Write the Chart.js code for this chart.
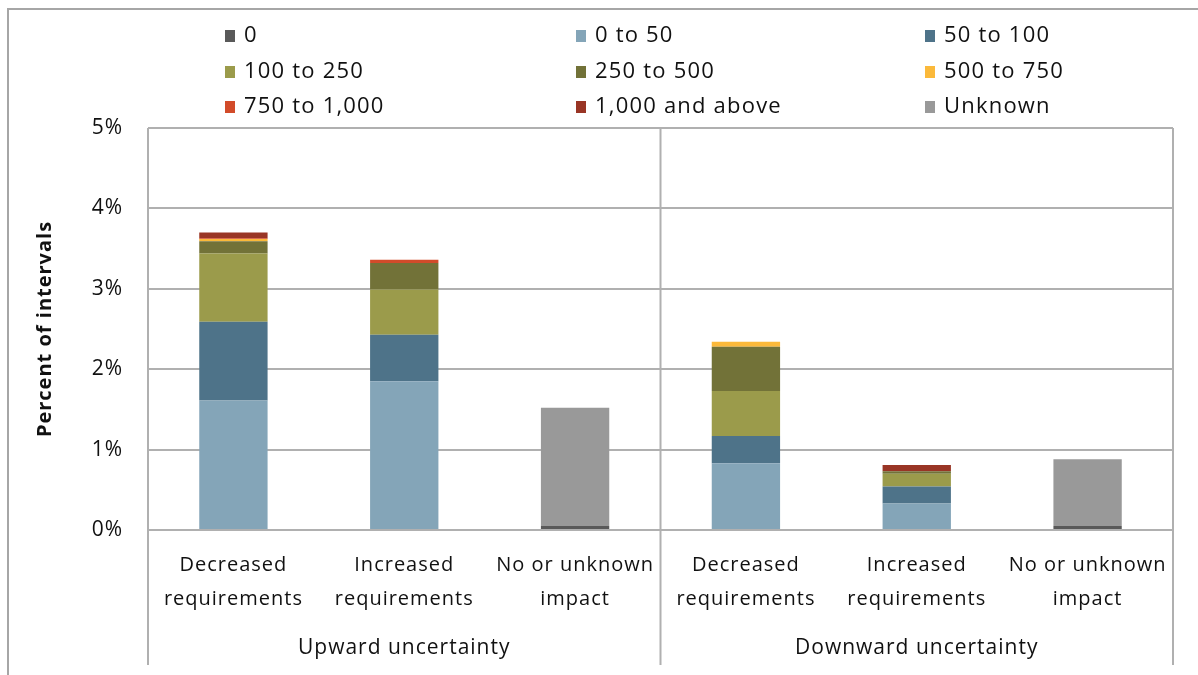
<!DOCTYPE html>
<html>
<head>
<meta charset="utf-8">
<title>Percent of intervals</title>
<script src="https://cdn.jsdelivr.net/npm/chart.js@4/dist/chart.umd.min.js"></script>
<style>
  html, body { margin: 0; padding: 0; background: #fff; }
  #wrap { width: 1198px; height: 675px; position: relative; }
</style>
</head>
<body>
<div id="wrap"><canvas id="myChart" width="1198" height="675"></canvas></div>
<script>
// categorias y grupos
var categories = [
  ["Decreased", "requirements"], ["Increased", "requirements"], ["No or unknown", "impact"],
  ["Decreased", "requirements"], ["Increased", "requirements"], ["No or unknown", "impact"]
];
var groups = ["Upward uncertainty", "Downward uncertainty"];
var yTicks = [0, 1, 2, 3, 4, 5];

// series (percent of intervals)
var seriesNames = ["0", "0 to 50", "50 to 100", "100 to 250", "250 to 500", "500 to 750", "750 to 1,000", "1,000 and above", "Unknown"];
var s0        = [0,    0,    0.05, 0,     0,     0.05];
var s0to50    = [1.61, 1.85, 0,    0.83,  0.33,  0];
var s50to100  = [0.98, 0.58, 0,    0.34,  0.21,  0];
var s100to250 = [0.85, 0.56, 0,    0.56,  0.16,  0];
var s250to500 = [0.15, 0.33, 0,    0.55,  0.03,  0];
var s500to750 = [0.03, 0,    0,    0.06,  0,     0];
var s750to1k  = [0.01, 0.04, 0,    0,     0,     0];
var s1kUp     = [0.07, 0,    0,    0,     0.08,  0];
var sUnknown  = [0,    0,    1.47, 0,     0,     0.83];

var colors = ["#595959", "#84a5b8", "#4e7389", "#9b9b4b", "#727238", "#fbb93a", "#d24b2a", "#993525", "#999999"];
var seriesData = [s0, s0to50, s50to100, s100to250, s250to500, s500to750, s750to1k, s1kUp, sUnknown];

var gridColor = "#b0b0b0";
var textColor = "#111111";
var fontFamily = "'Open Sans', 'DejaVu Sans', sans-serif";

var datasets = seriesNames.map(function(name, i) {
  return {
    label: name,
    data: seriesData[i],
    backgroundColor: colors[i],
    borderWidth: 0,
    barPercentage: 0.4,
    categoryPercentage: 1.0
  };
});

// marco, lineas verticales y leyenda en tres columnas
var framePlugin = {
  id: "frame",
  beforeDraw: function(chart) {
    var c = chart.ctx;
    c.fillStyle = "#ffffff";
    c.fillRect(0, 0, chart.width, chart.height);
    c.strokeStyle = "#a6a6a6";
    c.lineWidth = 2;
    c.beginPath();
    c.moveTo(8, chart.height);
    c.lineTo(8, 9);
    c.lineTo(chart.width, 9);
    c.stroke();
    // un poco de espacio entre letras, como el original
    c.letterSpacing = "1px";
  },
  afterDraw: function(chart) {
    var c = chart.ctx;
    var area = chart.chartArea;
    var xs = chart.scales.x;
    var bottom = chart.height - 10;
    var sep = (xs.getPixelForValue(2) + xs.getPixelForValue(3)) / 2;
    c.save();
    c.strokeStyle = gridColor;
    c.lineWidth = 2;
    c.beginPath();
    c.moveTo(area.left, area.top); c.lineTo(area.left, bottom);
    c.moveTo(area.right, area.top); c.lineTo(area.right, bottom);
    c.moveTo(sep, area.top); c.lineTo(sep, bottom);
    c.stroke();

    // leyenda
    var colX = [225, 576, 925];
    var rowY = [36, 72, 107];
    c.font = "22px " + fontFamily;
    c.letterSpacing = "1.2px";
    c.textBaseline = "middle";
    c.textAlign = "left";
    chart.data.datasets.forEach(function(ds, i) {
      var x = colX[i % 3];
      var y = rowY[Math.floor(i / 3)];
      c.fillStyle = ds.backgroundColor;
      c.fillRect(x, y - 6, 10, 12);
      c.fillStyle = textColor;
      c.fillText(ds.label, x + 19, y);
    });
    c.restore();
    c.letterSpacing = "0px";
  }
};

var ctx = document.getElementById("myChart").getContext("2d");
var myChart = new Chart(ctx, {
  type: "bar",
  data: { labels: categories, datasets: datasets },
  options: {
    responsive: false,
    animation: false,
    devicePixelRatio: 1,
    layout: { padding: { top: 128, right: 25, left: 0, bottom: 0 } },
    plugins: {
      legend: { display: false },
      tooltip: { enabled: false }
    },
    scales: {
      x: {
        stacked: true,
        weight: 0,
        grid: { display: false },
        border: { display: false },
        ticks: {
          color: textColor,
          font: { family: fontFamily, size: 20, lineHeight: 1.7 },
          padding: 10,
          maxRotation: 0,
          autoSkip: false
        },
        afterFit: function(scale) { scale.height = 94; }
      },
      x2: {
        type: "category",
        labels: groups,
        position: "bottom",
        offset: true,
        weight: 1,
        grid: { display: false },
        border: { display: false },
        ticks: {
          color: textColor,
          font: { family: fontFamily, size: 21 },
          padding: 3,
          maxRotation: 0
        },
        afterFit: function(scale) { scale.height = 51; }
      },
      y: {
        stacked: true,
        min: yTicks[0],
        max: yTicks[yTicks.length - 1],
        afterBuildTicks: function(scale) {
          scale.ticks = yTicks.map(function(v) { return { value: v }; });
        },
        grid: { color: gridColor, lineWidth: 2, drawTicks: false },
        border: { display: false },
        ticks: {
          color: textColor,
          font: { family: fontFamily, size: 21 },
          padding: 25,
          callback: function(v) { return v + "%"; }
        },
        title: {
          display: true,
          text: "Percent of intervals",
          color: textColor,
          font: { family: fontFamily, size: 20, weight: "bold", lineHeight: 1.2 },
          padding: { top: 33, bottom: 0 }
        },
        afterFit: function(scale) { scale.width = 148; }
      }
    }
  },
  plugins: [framePlugin]
});
</script>
</body>
</html>
